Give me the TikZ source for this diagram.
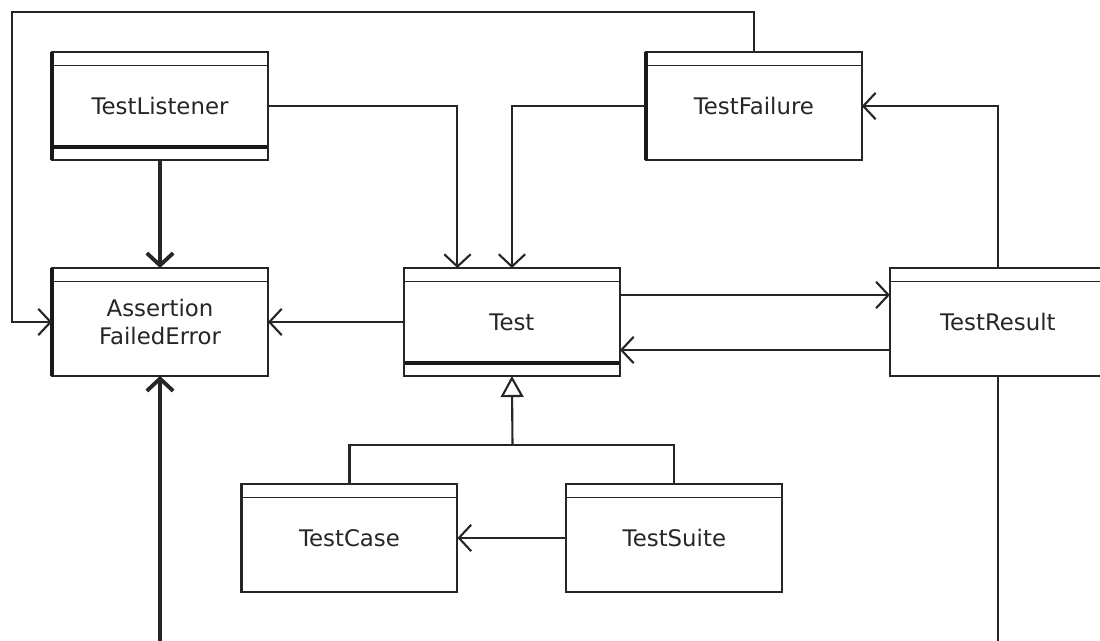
\documentclass[tikz,border=0pt]{standalone}
\usepackage{fontspec}
\setmainfont{DejaVu Sans}
\usetikzlibrary{arrows.meta, positioning}
\tikzset{
    x=0.02cm, y=-0.02cm, % one unit is one pixel of the sketch
    node distance=2.16cm, % gap between two rows of classes
    class/.style={draw=black!85, line width=1.2pt, fill=white,
        minimum width=4.32cm, minimum height=2.16cm, inner sep=0pt, outer sep=0pt,
        align=center, text=black!85, font=\fontsize{13}{15.5}\selectfont,
        path picture={\draw[line width=0.9pt, black!85]
            ([yshift=-0.27cm]path picture bounding box.north west) -- ([yshift=-0.27cm]path picture bounding box.north east);}},
    iface/.style={class, % class with a heavy bottom band
        path picture={\draw[line width=0.9pt, black!85]
            ([yshift=-0.27cm]path picture bounding box.north west) -- ([yshift=-0.27cm]path picture bounding box.north east);
            \draw[line width=2.4pt, black!90]
            ([yshift=0.26cm]path picture bounding box.south west) -- ([yshift=0.26cm]path picture bounding box.south east);}},
}
\tikzstyle{edge} = [draw=black!85, line width=1.2pt]
\tikzstyle{link} = [edge, -{Straight Barb[length=7pt,width=15pt]}]
\tikzstyle{heavy} = [link, line width=2.2pt]
\tikzstyle{inherit} = [edge, -{Triangle[open, length=12pt, width=13pt, fill=white]}]

\begin{document}
\begin{tikzpicture}
    \clip (0,0) rectangle (1100,641);
    \fill[white] (0,0) rectangle (1100,641);

    \node[class] (afe) at (160,322) {Assertion\\FailedError};
    \node[iface, above=of afe] (tl) {TestListener};
    \node[iface, right=2.72cm of afe] (test) {Test};
    \node[class, right=5.4cm of test] (tr) {TestResult};
    \node[class, above=of test, xshift=4.84cm] (tf) {TestFailure};
    \node[class, below=of test, xshift=-3.25cm] (tc) {TestCase};
    \node[class, right=2.18cm of tc] (ts) {TestSuite};

    % heavy left edges
    \draw[line width=2.4pt, black!90] (tl.north west) -- (tl.south west);
    \draw[line width=2.4pt, black!90] (tf.north west) -- (tf.south west);
    \draw[line width=1.8pt, black!90] (afe.north west) -- (afe.south west);

    \coordinate (corner) at (12,12);
    \coordinate (join) at (512.5,445);
    \coordinate (low) at (160,660);

    \draw[heavy] (tl) -- (afe);
    \draw[link] (tl.east) -| ([xshift=-1.09cm]test.north);
    \draw[link] (tf.west) -| (test.north);
    \draw[link] (tf.north) |- (corner) |- (afe.west);
    \draw[link] (test.west) -- (afe.east);
    \draw[link] ([yshift=0.54cm]test.east) -- ([yshift=0.54cm]tr.west);
    \draw[link] ([yshift=-0.56cm]tr.west) -- ([yshift=-0.56cm]test.east);
    \draw[link] (tr.north) |- (tf.east);
    \draw[edge] (tr.south) |- (low);
    \draw[heavy] (low) -- (afe.south);
    \draw[edge] (tc.north) |- (join) -| (ts.north);
    \draw[inherit] (join) -- (test.south);
    \draw[link] (ts.west) -- (tc.east);
\end{tikzpicture}
\end{document}
